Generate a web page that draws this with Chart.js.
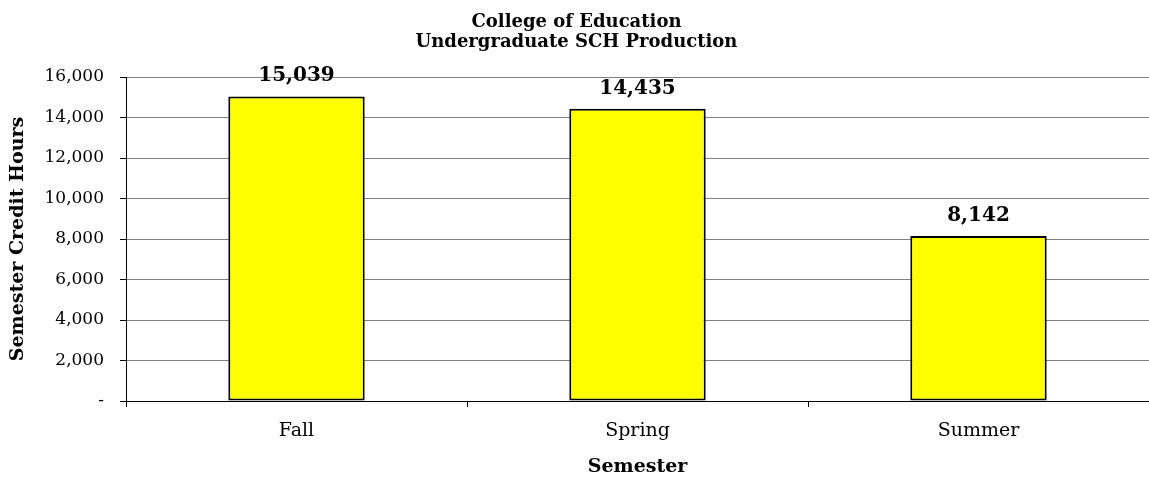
<!DOCTYPE html>
<html>
<head>
<meta charset="utf-8">
<title>College of Education - Undergraduate SCH Production</title>
<script src="https://cdn.jsdelivr.net/npm/chart.js@4"></script>
<style>
    html, body { margin: 0; padding: 0; background: #fff; }
    #wrap { width: 1149px; height: 479px; position: relative; }
</style>
</head>
<body>
<div id="wrap"><canvas id="schChart"></canvas></div>
<script>
// Chart data
const semesters = ['Fall', 'Spring', 'Summer'];
const creditHours = [15039, 14435, 8142];
const titleLines = ['College of Education', 'Undergraduate SCH Production'];

const FONT = "'DejaVu Serif', 'Liberation Serif', serif";

function fmt(v) {
    return v === 0 ? '-' : v.toLocaleString('en-US');
}

// Two-line title at the top of the page
const titlePlugin = {
    id: 'topTitle',
    afterDraw(chart) {
        const ctx = chart.ctx;
        ctx.save();
        ctx.fillStyle = '#000';
        ctx.font = 'bold 18px ' + FONT;
        ctx.textAlign = 'center';
        ctx.textBaseline = 'alphabetic';
        titleLines.forEach((line, i) => {
            ctx.fillText(line, chart.width / 2 + 2, 27 + i * 20);
        });
        ctx.restore();
    }
};

// Values above each bar
const valueLabels = {
    id: 'valueLabels',
    afterDatasetsDraw(chart) {
        const ctx = chart.ctx;
        const meta = chart.getDatasetMeta(0);
        ctx.save();
        ctx.fillStyle = '#000';
        ctx.font = 'bold 20px ' + FONT;
        ctx.textAlign = 'center';
        ctx.textBaseline = 'alphabetic';
        meta.data.forEach((bar, i) => {
            ctx.fillText(fmt(chart.data.datasets[0].data[i]), bar.x, bar.y - 15);
        });
        ctx.restore();
    }
};

document.addEventListener('DOMContentLoaded', function() {
    const ctx = document.getElementById('schChart').getContext('2d');
    new Chart(ctx, {
        type: 'bar',
        data: {
            labels: semesters,
            datasets: [{
                data: creditHours,
                backgroundColor: '#ffff00',
                borderColor: '#000',
                borderWidth: 2,
                borderSkipped: false,
                categoryPercentage: 1,
                barPercentage: 0.4
            }]
        },
        options: {
            responsive: true,
            maintainAspectRatio: false,
            animation: false,
            layout: { padding: { top: 77, right: 0, left: 0, bottom: 0 } },
            plugins: {
                legend: { display: false },
                title: { display: false },
                tooltip: { enabled: false }
            },
            scales: {
                x: {
                    grid: {
                        offset: true,
                        drawOnChartArea: false,
                        drawTicks: true,
                        tickLength: 6,
                        tickColor: '#000'
                    },
                    border: { color: '#000', width: 1 },
                    ticks: {
                        color: '#000',
                        font: { family: FONT, size: 19 },
                        padding: 13
                    },
                    title: {
                        display: true,
                        text: 'Semester',
                        color: '#000',
                        font: { family: FONT, size: 19, weight: 'bold' },
                        padding: { top: 0, bottom: 1 }
                    },
                    afterFit(scale) { scale.height = 78; }
                },
                y: {
                    min: 0,
                    max: 16000,
                    grid: {
                        color: '#808080',
                        lineWidth: 1,
                        tickLength: 6,
                        tickColor: '#000'
                    },
                    border: { color: '#000', width: 1 },
                    ticks: {
                        stepSize: 2000,
                        color: '#000',
                        font: { family: FONT, size: 17 },
                        padding: 16,
                        callback: (v) => fmt(v)
                    },
                    title: {
                        display: true,
                        text: 'Semester Credit Hours',
                        color: '#000',
                        font: { family: FONT, size: 19, weight: 'bold' },
                        padding: { top: 7, bottom: 0 }
                    },
                    afterFit(scale) { scale.width = 126; }
                }
            }
        },
        plugins: [titlePlugin, valueLabels]
    });
});
</script>
</body>
</html>
